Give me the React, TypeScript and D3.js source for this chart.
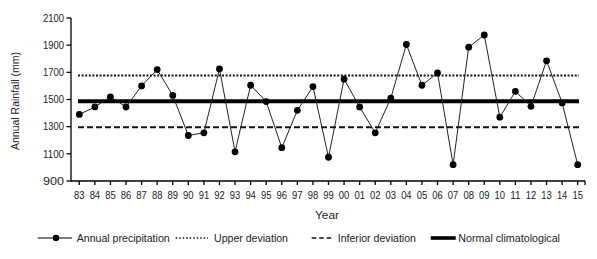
import React from "react";
import * as d3 from "d3";

const years = ["83","84","85","86","87","88","89","90","91","92","93","94","95","96","97","98","99","00","01","02","03","04","05","06","07","08","09","10","11","12","13","14","15"];
const precipitation = [1390,1445,1520,1445,1600,1720,1530,1235,1255,1725,1115,1605,1485,1145,1420,1595,1075,1650,1445,1255,1510,1905,1605,1695,1020,1885,1975,1370,1560,1450,1785,1475,1020];
const upperDeviation = 1677;
const normalClimatological = 1487;
const inferiorDeviation = 1295;
const yTicks = [900,1100,1300,1500,1700,1900,2100];

const W = 597, H = 259;
const font = "'Liberation Sans', Arial, sans-serif";

export default function App() {
  const x = d3.scaleLinear().domain([0, years.length - 1]).range([79.3, 577.7]);
  const y = d3.scaleLinear().domain([900, 2100]).range([181, 18]);
  const line = d3.line<number>().x((_, i) => x(i)).y((d) => y(d));
  const axX0 = 71, axX1 = 585;
  const hx0 = 78, hx1 = 579;
  const legY = 238;
  const legT = 242.3;
  return (
    <svg width={W} height={H} style={{ position: "absolute", left: 0, top: 0, background: "#fff" }}>
      <rect width={W} height={H} fill="#fff" />
      {/* reference lines */}
      <line x1={hx0} x2={hx1} y1={y(upperDeviation)} y2={y(upperDeviation)} stroke="#111" strokeWidth={2} strokeDasharray="2,1.6" />
      <line x1={hx0} x2={hx1} y1={y(inferiorDeviation)} y2={y(inferiorDeviation)} stroke="#111" strokeWidth={2} strokeDasharray="6,3" />
      <line x1={hx0} x2={hx1} y1={y(normalClimatological)} y2={y(normalClimatological)} stroke="#000" strokeWidth={4} />
      {/* data */}
      <path d={line(precipitation) || ""} fill="none" stroke="#222" strokeWidth={1} />
      {precipitation.map((v, i) => (
        <circle key={i} cx={x(i)} cy={y(v)} r={3.4} fill="#000" />
      ))}
      {/* y axis */}
      <line x1={axX0} x2={axX0} y1={y(2100)} y2={y(900) + 0.5} stroke="#000" strokeWidth={1.3} />
      {yTicks.map((t) => (
        <g key={t}>
          <line x1={axX0 - 4.5} x2={axX0} y1={y(t)} y2={y(t)} stroke="#000" strokeWidth={1.3} />
          <text x={axX0 - 7} y={y(t) + 3.7} textAnchor="end" fontFamily={font} fontSize={10.3} fill="#222" textLength={21} lengthAdjust="spacingAndGlyphs">{t}</text>
        </g>
      ))}
      {/* x axis */}
      <line x1={axX0} x2={axX1} y1={y(900)} y2={y(900)} stroke="#000" strokeWidth={1.3} />
      {years.map((yr, i) => (
        <g key={yr}>
          <line x1={x(i)} x2={x(i)} y1={y(900)} y2={y(900) + 4} stroke="#000" strokeWidth={1.3} />
          <text x={x(i)} y={198.7} textAnchor="middle" fontFamily={font} fontSize={10.3} fill="#222" textLength={10.5} lengthAdjust="spacingAndGlyphs">{yr}</text>
        </g>
      ))}
      <line x1={axX1} x2={axX1} y1={y(900)} y2={y(900) + 4} stroke="#000" strokeWidth={1.3} />
      <text x={327} y={218.5} textAnchor="middle" fontFamily={font} fontSize={11} fill="#222" textLength={24} lengthAdjust="spacingAndGlyphs">Year</text>
      <text transform={`translate(19.3,101) rotate(-90)`} textAnchor="middle" fontFamily={font} fontSize={11} fill="#222" textLength={98} lengthAdjust="spacingAndGlyphs">Annual Rainfall  (mm)</text>
      {/* legend */}
      <line x1={37.7} x2={72} y1={legY} y2={legY} stroke="#000" strokeWidth={1.2} />
      <circle cx={56} cy={legY} r={3.2} fill="#000" />
      <text x={76.7} y={legT} fontFamily={font} fontSize={11.5} fill="#222" textLength={93} lengthAdjust="spacingAndGlyphs">Annual precipitation</text>
      <line x1={175.7} x2={208} y1={legY} y2={legY} stroke="#111" strokeWidth={1.3} strokeDasharray="1.5,2" />
      <text x={214} y={legT} fontFamily={font} fontSize={11.5} fill="#222" textLength={74} lengthAdjust="spacingAndGlyphs">Upper deviation</text>
      <line x1={311.7} x2={333.3} y1={legY} y2={legY} stroke="#111" strokeWidth={1.6} strokeDasharray="4.5,3" />
      <text x={337.7} y={legT} fontFamily={font} fontSize={11.5} fill="#222" textLength={78.3} lengthAdjust="spacingAndGlyphs">Inferior deviation</text>
      <line x1={430.7} x2={455.7} y1={legY} y2={legY} stroke="#000" strokeWidth={3.6} />
      <text x={458.3} y={legT} fontFamily={font} fontSize={11.5} fill="#222" textLength={101.7} lengthAdjust="spacingAndGlyphs">Normal climatological</text>
    </svg>
  );
}
